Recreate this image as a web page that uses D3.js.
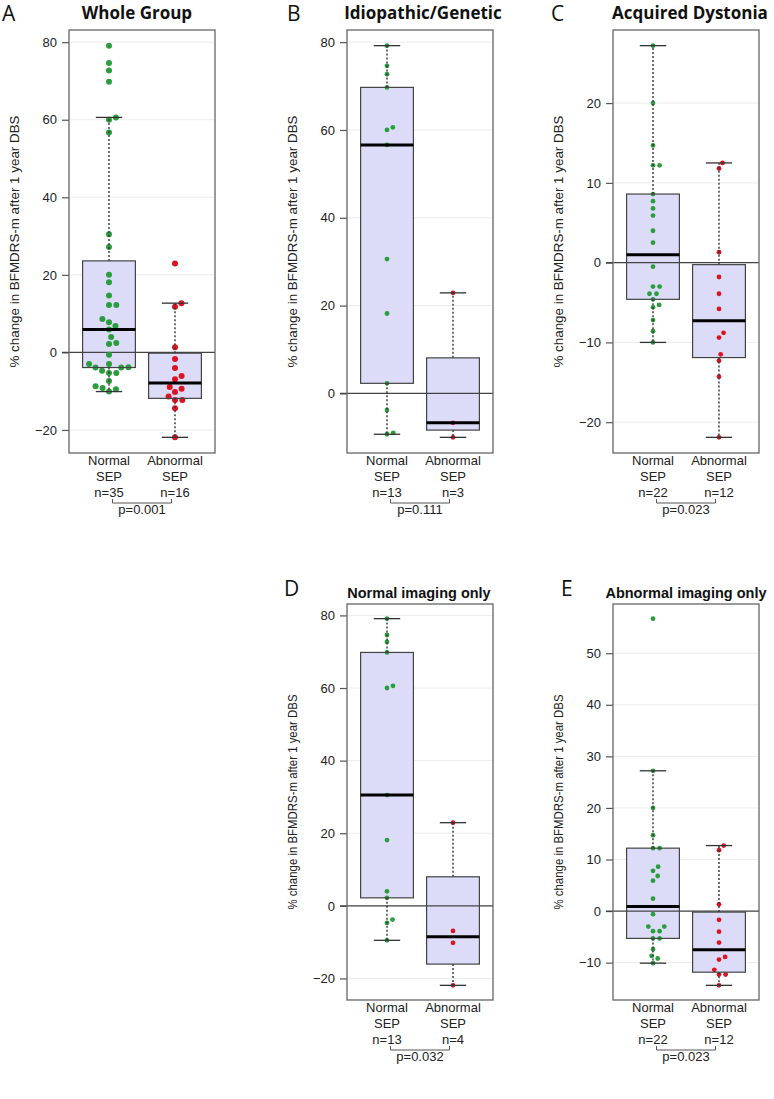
<!DOCTYPE html>
<html>
<head>
<meta charset="utf-8">
<script src="https://cdn.jsdelivr.net/npm/d3@7"></script>
<style>
  body { margin: 0; background: #fff; }
  svg { display: block; }
</style>
</head>
<body>
<div id="chart"></div>
<script>
// values (% change in BFMDRS-m after 1 year DBS)
var groups = ["Normal", "Abnormal"];

var aNormal = [79.1, 74.6, 72.7, 69.8, 60.6, 60.0, 30.5, 18.1, 4.0, 2.2, -3.8, -4.7, -9.5,
               56.7, 27.2, 20.0, 14.7, 12.2, 12.2, 8.6, 7.8, 6.8, 5.9, 2.4, -0.6, -3.0, -3.0,
               -3.9, -3.9, -5.3, -5.3, -7.4, -8.7, -9.2, -10.1];
var aAbnormal = [22.9, -6.9, -10.2, -21.9, 12.7, 11.8, 1.3, -1.7, -4.0, -6.1, -8.9, -9.4,
                 -11.4, -12.3, -12.3, -14.4];

var bNormal = [79.2, 74.6, 72.7, 69.7, 60.0, 60.6, 56.6, 30.6, 18.2, 2.3, -3.8, -9.3, -9.0];
var bAbnormal = [22.9, -6.7, -10.0];

var cNormal = [27.2, 20.0, 14.7, 12.2, 12.2, 8.6, 7.7, 6.8, 5.9, 4.0, 2.5, -0.5, -3.0, -3.0,
               -3.9, -3.9, -4.6, -5.3, -5.6, -7.2, -8.6, -10.0];
var cAbnormal = [12.5, 11.8, 1.3, -1.8, -3.9, -5.8, -8.8, -9.4, -11.5, -12.3, -14.3, -21.9];

var dNormal = [79.1, 74.6, 72.7, 69.8, 60.6, 60.0, 30.5, 18.1, 4.0, 2.2, -3.8, -4.7, -9.5];
var dAbnormal = [22.9, -6.9, -10.2, -21.9];

var eNormal = [56.7, 27.2, 20.0, 14.7, 12.2, 12.2, 8.6, 7.8, 6.8, 5.9, 2.4, -0.6, -3.0, -3.0,
               -3.9, -3.9, -5.3, -5.3, -7.4, -8.7, -9.2, -10.1];
var eAbnormal = [12.7, 11.8, 1.3, -1.7, -4.0, -6.1, -8.9, -9.4, -11.4, -12.3, -12.3, -14.4];

var aTicks = [-20, 0, 20, 40, 60, 80];
var bTicks = [0, 20, 40, 60, 80];
var cTicks = [-20, -10, 0, 10, 20];
var dTicks = [-20, 0, 20, 40, 60, 80];
var eTicks = [-10, 0, 10, 20, 30, 40, 50];

var letters = ["A", "B", "C", "D", "E"];
var titles = ["Whole Group", "Idiopathic/Genetic", "Acquired Dystonia",
              "Normal imaging only", "Abnormal imaging only"];
var pValues = ["p=0.001", "p=0.111", "p=0.023", "p=0.032", "p=0.023"];

var yTitle = "% change in BFMDRS-m after 1 year DBS";

// page layout for each panel
var panels = [
  { normal: aNormal, abnormal: aAbnormal, ticks: aTicks, left: 69, right: 215, top: 30, bottom: 453,
    titleX: 137, titleY: 18.5, letterX: 2, letterY: 21, big: true, r: 3.0, gap: 7.3 },
  { normal: bNormal, abnormal: bAbnormal, ticks: bTicks, left: 347, right: 493, top: 30, bottom: 453,
    titleX: 423, titleY: 18.5, letterX: 287, letterY: 21, big: true, r: 2.4, gap: 6.4 },
  { normal: cNormal, abnormal: cAbnormal, ticks: cTicks, left: 613, right: 759, top: 30, bottom: 453,
    titleX: 690, titleY: 18.5, letterX: 551, letterY: 21, big: true, r: 2.4, gap: 6.6 },
  { normal: dNormal, abnormal: dAbnormal, ticks: dTicks, left: 347, right: 493, top: 604, bottom: 1000,
    titleX: 419, titleY: 598, letterX: 284, letterY: 596, big: false, r: 2.4, gap: 6.4 },
  { normal: eNormal, abnormal: eAbnormal, ticks: eTicks, left: 613, right: 759, top: 604, bottom: 1000,
    titleX: 686, titleY: 598, letterX: 561, letterY: 596, big: false, r: 2.4, gap: 6.6 }
];

var green = "#2a9e3c", red = "#dd1420";
var font = "'Liberation Sans', Arial, sans-serif";

var svg = d3.select("#chart").append("svg")
    .attr("width", 774)
    .attr("height", 1099);

// R-style five number summary (Tukey hinges) and whisker ends
function boxStats(vals) {
  var s = vals.slice().sort(d3.ascending), n = s.length;
  var n4 = Math.floor((n + 3) / 2) / 2;
  var at = function (p) { return 0.5 * (s[Math.floor(p) - 1] + s[Math.ceil(p) - 1]); };
  var q1 = at(n4), med = at((n + 1) / 2), q3 = at(n + 1 - n4);
  var iqr = q3 - q1;
  var lo = d3.min(s.filter(function (v) { return v >= q1 - 1.5 * iqr; }));
  var hi = d3.max(s.filter(function (v) { return v <= q3 + 1.5 * iqr; }));
  return { q1: q1, med: med, q3: q3, lo: lo, hi: hi };
}

// simple beeswarm: place each point as close to the centre as it can go
function swarm(vals, y, gap) {
  var pts = vals.map(function (v) { return { v: v, y: y(v) }; })
    .sort(function (a, b) { return a.v - b.v; });
  var placed = [];
  pts.forEach(function (p) {
    var near = placed.filter(function (q) { return Math.abs(q.y - p.y) < gap; });
    var cands = [0];
    near.forEach(function (q) {
      var dx = Math.sqrt(gap * gap - (q.y - p.y) * (q.y - p.y));
      cands.push(q.x + dx, q.x - dx);
    });
    cands.sort(function (a, b) { return Math.abs(a) - Math.abs(b); });
    p.x = cands.find(function (c) {
      return near.every(function (q) { return (q.x - c) * (q.x - c) + (q.y - p.y) * (q.y - p.y) >= gap * gap - 0.01; });
    });
    placed.push(p);
  });
  return pts;
}

panels.forEach(function (P, i) {
  var all = P.normal.concat(P.abnormal);
  var ext = d3.extent(all), pad = (ext[1] - ext[0]) * 0.04;

  var y = d3.scaleLinear()
    .domain([ext[0] - pad, ext[1] + pad])
    .range([P.bottom, P.top]);

  var x = d3.scalePoint()
    .domain(groups)
    .range([P.left, P.right])
    .padding(0.606);

  var step = x.step(), boxW = step * 0.8, capW = boxW * 0.5;

  var g = svg.append("g");

  // light grid
  g.selectAll(".grid").data(P.ticks).enter().append("line")
    .attr("x1", P.left).attr("x2", P.right)
    .attr("y1", function (d) { return y(d); }).attr("y2", function (d) { return y(d); })
    .attr("stroke", "#ececec").attr("stroke-width", 1);

  // y axis ticks and labels
  var axis = d3.axisLeft(y).tickValues(P.ticks).tickSize(7).tickPadding(5);
  var ax = g.append("g").attr("transform", "translate(" + P.left + ",0)").call(axis);
  ax.select(".domain").remove();
  ax.selectAll(".tick line").attr("stroke", "#555").attr("stroke-width", 1.2);
  ax.selectAll(".tick text")
    .attr("fill", "#222")
    .style("font-family", font)
    .style("font-size", "13px");

  var stats = [boxStats(P.normal), boxStats(P.abnormal)];

  // box fills
  g.selectAll(".boxfill").data(stats).enter().append("rect")
    .attr("x", function (d, k) { return x(groups[k]) - boxW / 2; })
    .attr("width", boxW)
    .attr("y", function (d) { return y(d.q3); })
    .attr("height", function (d) { return y(d.q1) - y(d.q3); })
    .attr("fill", "#dcdcf8");

  // zero reference line
  g.append("line")
    .attr("x1", P.left - 7).attr("x2", P.right)
    .attr("y1", y(0)).attr("y2", y(0))
    .attr("stroke", "#444").attr("stroke-width", 1.2);

  // swarm points
  [P.normal, P.abnormal].forEach(function (vals, k) {
    var pts = swarm(vals, y, P.gap);
    g.selectAll(".pt" + k).data(pts).enter().append("circle")
      .attr("cx", function (d) { return x(groups[k]) + d.x; })
      .attr("cy", function (d) { return d.y; })
      .attr("r", P.r)
      .attr("fill", k === 0 ? green : red);
  });

  // whiskers, caps, box outline, median
  stats.forEach(function (s, k) {
    var cx = x(groups[k]);
    g.append("line").attr("x1", cx).attr("x2", cx).attr("y1", y(s.q3)).attr("y2", y(s.hi))
      .attr("stroke", "#333").attr("stroke-width", 1.4).attr("stroke-dasharray", "2,2");
    g.append("line").attr("x1", cx).attr("x2", cx).attr("y1", y(s.q1)).attr("y2", y(s.lo))
      .attr("stroke", "#333").attr("stroke-width", 1.4).attr("stroke-dasharray", "2,2");
    [s.hi, s.lo].forEach(function (v) {
      g.append("line").attr("x1", cx - capW / 2).attr("x2", cx + capW / 2)
        .attr("y1", y(v)).attr("y2", y(v))
        .attr("stroke", "#333").attr("stroke-width", 1.3);
    });
    g.append("rect")
      .attr("x", cx - boxW / 2).attr("width", boxW)
      .attr("y", y(s.q3)).attr("height", y(s.q1) - y(s.q3))
      .attr("fill", "none").attr("stroke", "#444").attr("stroke-width", 1.2);
    g.append("line").attr("x1", cx - boxW / 2).attr("x2", cx + boxW / 2)
      .attr("y1", y(s.med)).attr("y2", y(s.med))
      .attr("stroke", "#000").attr("stroke-width", 3);
  });

  // plot frame
  g.append("rect")
    .attr("x", P.left).attr("y", P.top)
    .attr("width", P.right - P.left).attr("height", P.bottom - P.top)
    .attr("fill", "none").attr("stroke", "#666").attr("stroke-width", 1.3);

  // y axis title
  var ty = (P.top + P.bottom) / 2;
  g.append("text")
    .attr("transform", "translate(" + (P.left - 54) + "," + ty + ") rotate(-90)")
    .attr("text-anchor", "middle")
    .attr("dominant-baseline", "central")
    .attr("textLength", P.big ? 252 : 215)
    .attr("lengthAdjust", "spacingAndGlyphs")
    .style("font-family", font)
    .style("font-size", "12.5px")
    .attr("fill", "#222")
    .text(yTitle);

  // category labels under the plot
  [P.normal, P.abnormal].forEach(function (vals, k) {
    var cx = x(groups[k]);
    var lines = [groups[k], "SEP", "n=" + vals.length];
    var offs = [11.5, 28, 44];
    lines.forEach(function (t, j) {
      g.append("text").attr("x", cx).attr("y", P.bottom + offs[j])
        .attr("text-anchor", "middle")
        .style("font-family", font).style("font-size", "13px")
        .attr("fill", "#222").text(t);
    });
  });

  // bracket and p value
  var x0 = x(groups[0]) + 3.5, x1 = x(groups[1]) - 3.5;
  g.append("path")
    .attr("d", "M" + x0 + "," + (P.bottom + 46) + "V" + (P.bottom + 50) + "H" + x1 + "V" + (P.bottom + 46))
    .attr("fill", "none").attr("stroke", "#555").attr("stroke-width", 1);
  g.append("text").attr("x", (x0 + x1) / 2).attr("y", P.bottom + 61)
    .attr("text-anchor", "middle")
    .style("font-family", font).style("font-size", "13px")
    .attr("fill", "#222").text(pValues[i]);

  // panel letter and title
  g.append("text").attr("x", P.letterX).attr("y", P.letterY)
    .style("font-family", "'Open Sans', sans-serif").style("font-size", "21px")
    .attr("fill", "#111").text(letters[i]);

  g.append("text").attr("x", P.titleX).attr("y", P.titleY)
    .attr("text-anchor", "middle")
    .style("font-family", P.big ? "'Open Sans', sans-serif" : font)
    .style("font-weight", "bold")
    .style("font-size", P.big ? "17px" : "14.5px")
    .attr("fill", "#111").text(titles[i]);
});
</script>
</body>
</html>
